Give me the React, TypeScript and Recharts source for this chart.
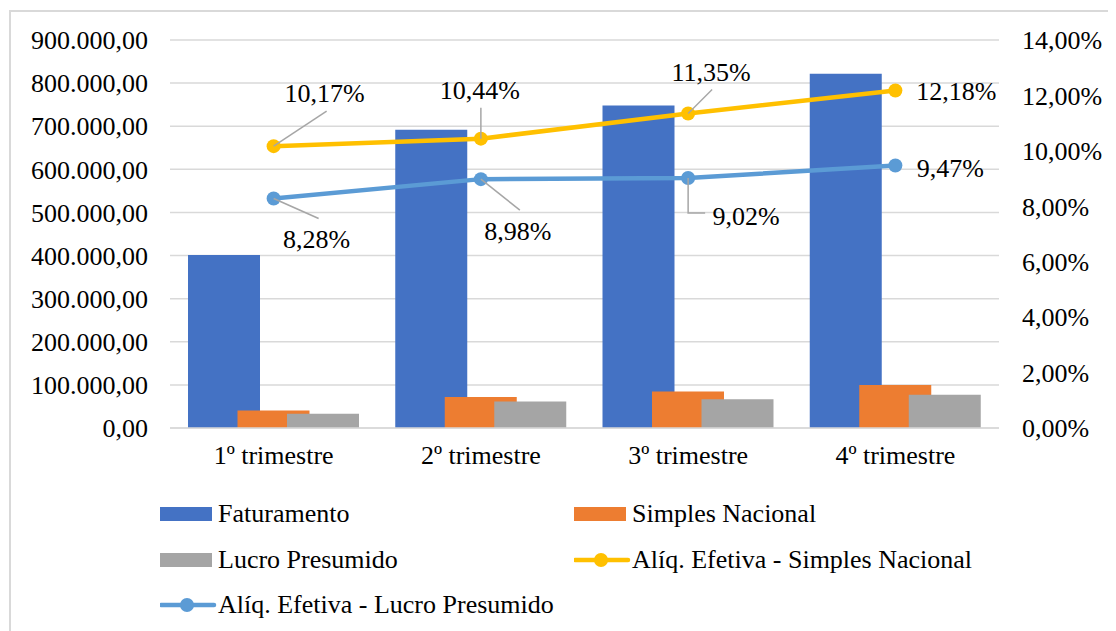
import React from 'react';
import { ComposedChart, Bar, Line, XAxis, YAxis, CartesianGrid, LabelList } from 'recharts';

// ---- data ----
const quarters = ['1º trimestre', '2º trimestre', '3º trimestre', '4º trimestre'];
const faturamento = [401000, 692000, 748000, 822000];
const simplesNacional = [40500, 72000, 84500, 99500];
const lucroPresumido = [33000, 61500, 66500, 77000];
const aliqSimples = [0.1017, 0.1044, 0.1135, 0.1218];
const aliqLucro = [0.0828, 0.0898, 0.0902, 0.0947];
const valueTicks = [0, 100000, 200000, 300000, 400000, 500000, 600000, 700000, 800000, 900000];
const rateTicks = [0, 0.02, 0.04, 0.06, 0.08, 0.1, 0.12, 0.14];

const data = quarters.map((quarter, i) => ({
  quarter,
  faturamento: faturamento[i],
  simples: simplesNacional[i],
  lucro: lucroPresumido[i],
  aliqSimples: aliqSimples[i],
  aliqLucro: aliqLucro[i],
}));

// ---- styling ----
const FONT = '"Liberation Serif", "Times New Roman", serif';
const FS = 26;
const GRID = '#D9D9D9';
const LEADER = '#A6A6A6';
const C_FAT = '#4472C4';
const C_SN = '#ED7D31';
const C_LP = '#A5A5A5';
const C_ASN = '#FFC000';
const C_ALP = '#5B9BD5';

const fmtMoney = (v: number) => {
  const int = Math.round(v).toString().replace(/\B(?=(\d{3})+(?!\d))/g, '.');
  return `${int},00`;
};
const fmtPct = (v: number) => `${(v * 100).toFixed(2).replace('.', ',')}%`;

// label placement relative to each point: text centre and optional leader polyline
type LabelPlace = { dx: number; dy: number; leader?: number[][] };
const simplesLabelPlaces: LabelPlace[] = [
  { dx: 51, dy: -53, leader: [[0, 0], [53, -35]] },
  { dx: -1, dy: -48, leader: [[0, 0], [0, -31]] },
  { dx: 23, dy: -41, leader: [[0, 0], [24, -24]] },
  { dx: 61, dy: 1 },
];
const lucroLabelPlaces: LabelPlace[] = [
  { dx: 43, dy: 41, leader: [[0, 0], [45, 20]] },
  { dx: 37, dy: 52, leader: [[0, 0], [39, 31]] },
  { dx: 58, dy: 38, leader: [[0, 0], [0, 35], [17, 35]] },
  { dx: 55, dy: 3 },
];

const makeRateLabel = (places: LabelPlace[]) => (props: any) => {
  const { x, y, value, index } = props;
  const p = places[index];
  if (!p || x == null || y == null) return null;
  return (
    <g>
      {p.leader && (
        <polyline
          points={p.leader.map(([a, b]) => `${x + a},${y + b}`).join(' ')}
          fill="none"
          stroke={LEADER}
          strokeWidth={1.5}
        />
      )}
      <text
        x={x + p.dx}
        y={y + p.dy}
        textAnchor="middle"
        dominantBaseline="central"
        fontFamily={FONT}
        fontSize={FS}
        fill="#000"
      >
        {fmtPct(Number(value))}
      </text>
    </g>
  );
};

type LegendItem = { name: string; color: string; kind: 'bar' | 'line'; col: number; row: number };
const legendItems: LegendItem[] = [
  { name: 'Faturamento', color: C_FAT, kind: 'bar', col: 0, row: 0 },
  { name: 'Simples Nacional', color: C_SN, kind: 'bar', col: 1, row: 0 },
  { name: 'Lucro Presumido', color: C_LP, kind: 'bar', col: 0, row: 1 },
  { name: 'Alíq. Efetiva - Simples Nacional', color: C_ASN, kind: 'line', col: 1, row: 1 },
  { name: 'Alíq. Efetiva - Lucro Presumido', color: C_ALP, kind: 'line', col: 0, row: 2 },
];
const legendColX = [152, 566];
const legendRowY = [506, 552, 597];

const LegendIcon = ({ item }: { item: LegendItem }) =>
  item.kind === 'bar' ? (
    <svg width={58} height={20} style={{ display: 'block' }}>
      <rect x={0} y={3} width={52} height={14} fill={item.color} />
    </svg>
  ) : (
    <svg width={58} height={20} style={{ display: 'block' }}>
      <line x1={1} y1={10} x2={54} y2={10} stroke={item.color} strokeWidth={4.5} strokeLinecap="round" />
      <circle cx={27} cy={10} r={7} fill={item.color} />
    </svg>
  );

export default function App() {
  return (
    <div style={{ position: 'relative', width: 1108, height: 623, overflow: 'hidden', fontFamily: FONT }}>
      <div
        style={{
          position: 'absolute',
          left: 1,
          top: 2,
          width: 1300,
          height: 900,
          borderLeft: `2px solid ${GRID}`,
          borderTop: `2px solid ${GRID}`,
        }}
      />
      <div style={{ position: 'absolute', left: 0, top: 0 }}>
        <ComposedChart
          width={1108}
          height={623}
          data={data}
          barGap={-22.5}
          margin={{ top: 32, right: 0, bottom: 173, left: 0 }}
        >
          <CartesianGrid vertical={false} stroke={GRID} strokeWidth={1.5} yAxisId="left" />
          <XAxis
            dataKey="quarter"
            interval={0}
            height={30}
            axisLine={{ stroke: GRID, strokeWidth: 1.5 }}
            tickLine={false}
            tickMargin={12}
            tick={{ fontSize: FS, fill: '#000', fontFamily: FONT }}
          />
          <YAxis
            yAxisId="left"
            orientation="left"
            width={162}
            domain={[0, 900000]}
            ticks={valueTicks}
            interval={0}
            axisLine={false}
            tickLine={false}
            tickMargin={16}
            tickFormatter={fmtMoney}
            tick={{ fontSize: FS, fill: '#000', fontFamily: FONT }}
          />
          <YAxis
            yAxisId="right"
            orientation="right"
            width={117}
            domain={[0, 0.14]}
            ticks={rateTicks}
            interval={0}
            axisLine={false}
            tickLine={false}
            tickMargin={17}
            tickFormatter={fmtPct}
            tick={{ fontSize: FS, fill: '#000', fontFamily: FONT, textAnchor: 'start' }}
          />
          <Bar yAxisId="left" dataKey="faturamento" name="Faturamento" fill={C_FAT} barSize={72} isAnimationActive={false} />
          <Bar yAxisId="left" dataKey="simples" name="Simples Nacional" fill={C_SN} barSize={72} isAnimationActive={false} />
          <Bar yAxisId="left" dataKey="lucro" name="Lucro Presumido" fill={C_LP} barSize={72} isAnimationActive={false} />
          <Line
            yAxisId="right"
            type="linear"
            dataKey="aliqSimples"
            name="Alíq. Efetiva - Simples Nacional"
            stroke={C_ASN}
            strokeWidth={4.5}
            dot={{ r: 7, fill: C_ASN, stroke: C_ASN, strokeWidth: 0 }}
            activeDot={false}
            isAnimationActive={false}
          >
            <LabelList dataKey="aliqSimples" content={makeRateLabel(simplesLabelPlaces)} />
          </Line>
          <Line
            yAxisId="right"
            type="linear"
            dataKey="aliqLucro"
            name="Alíq. Efetiva - Lucro Presumido"
            stroke={C_ALP}
            strokeWidth={4.5}
            dot={{ r: 7, fill: C_ALP, stroke: C_ALP, strokeWidth: 0 }}
            activeDot={false}
            isAnimationActive={false}
          >
            <LabelList dataKey="aliqLucro" content={makeRateLabel(lucroLabelPlaces)} />
          </Line>
        </ComposedChart>
      </div>
      {legendItems.map((item) => (
        <div
          key={item.name}
          style={{
            position: 'absolute',
            left: legendColX[item.col],
            top: legendRowY[item.row] - 16,
            height: 32,
            display: 'flex',
            alignItems: 'center',
            whiteSpace: 'nowrap',
            fontSize: FS,
            color: '#000',
            lineHeight: '32px',
          }}
        >
          <LegendIcon item={item} />
          <span>{item.name}</span>
        </div>
      ))}
    </div>
  );
}
